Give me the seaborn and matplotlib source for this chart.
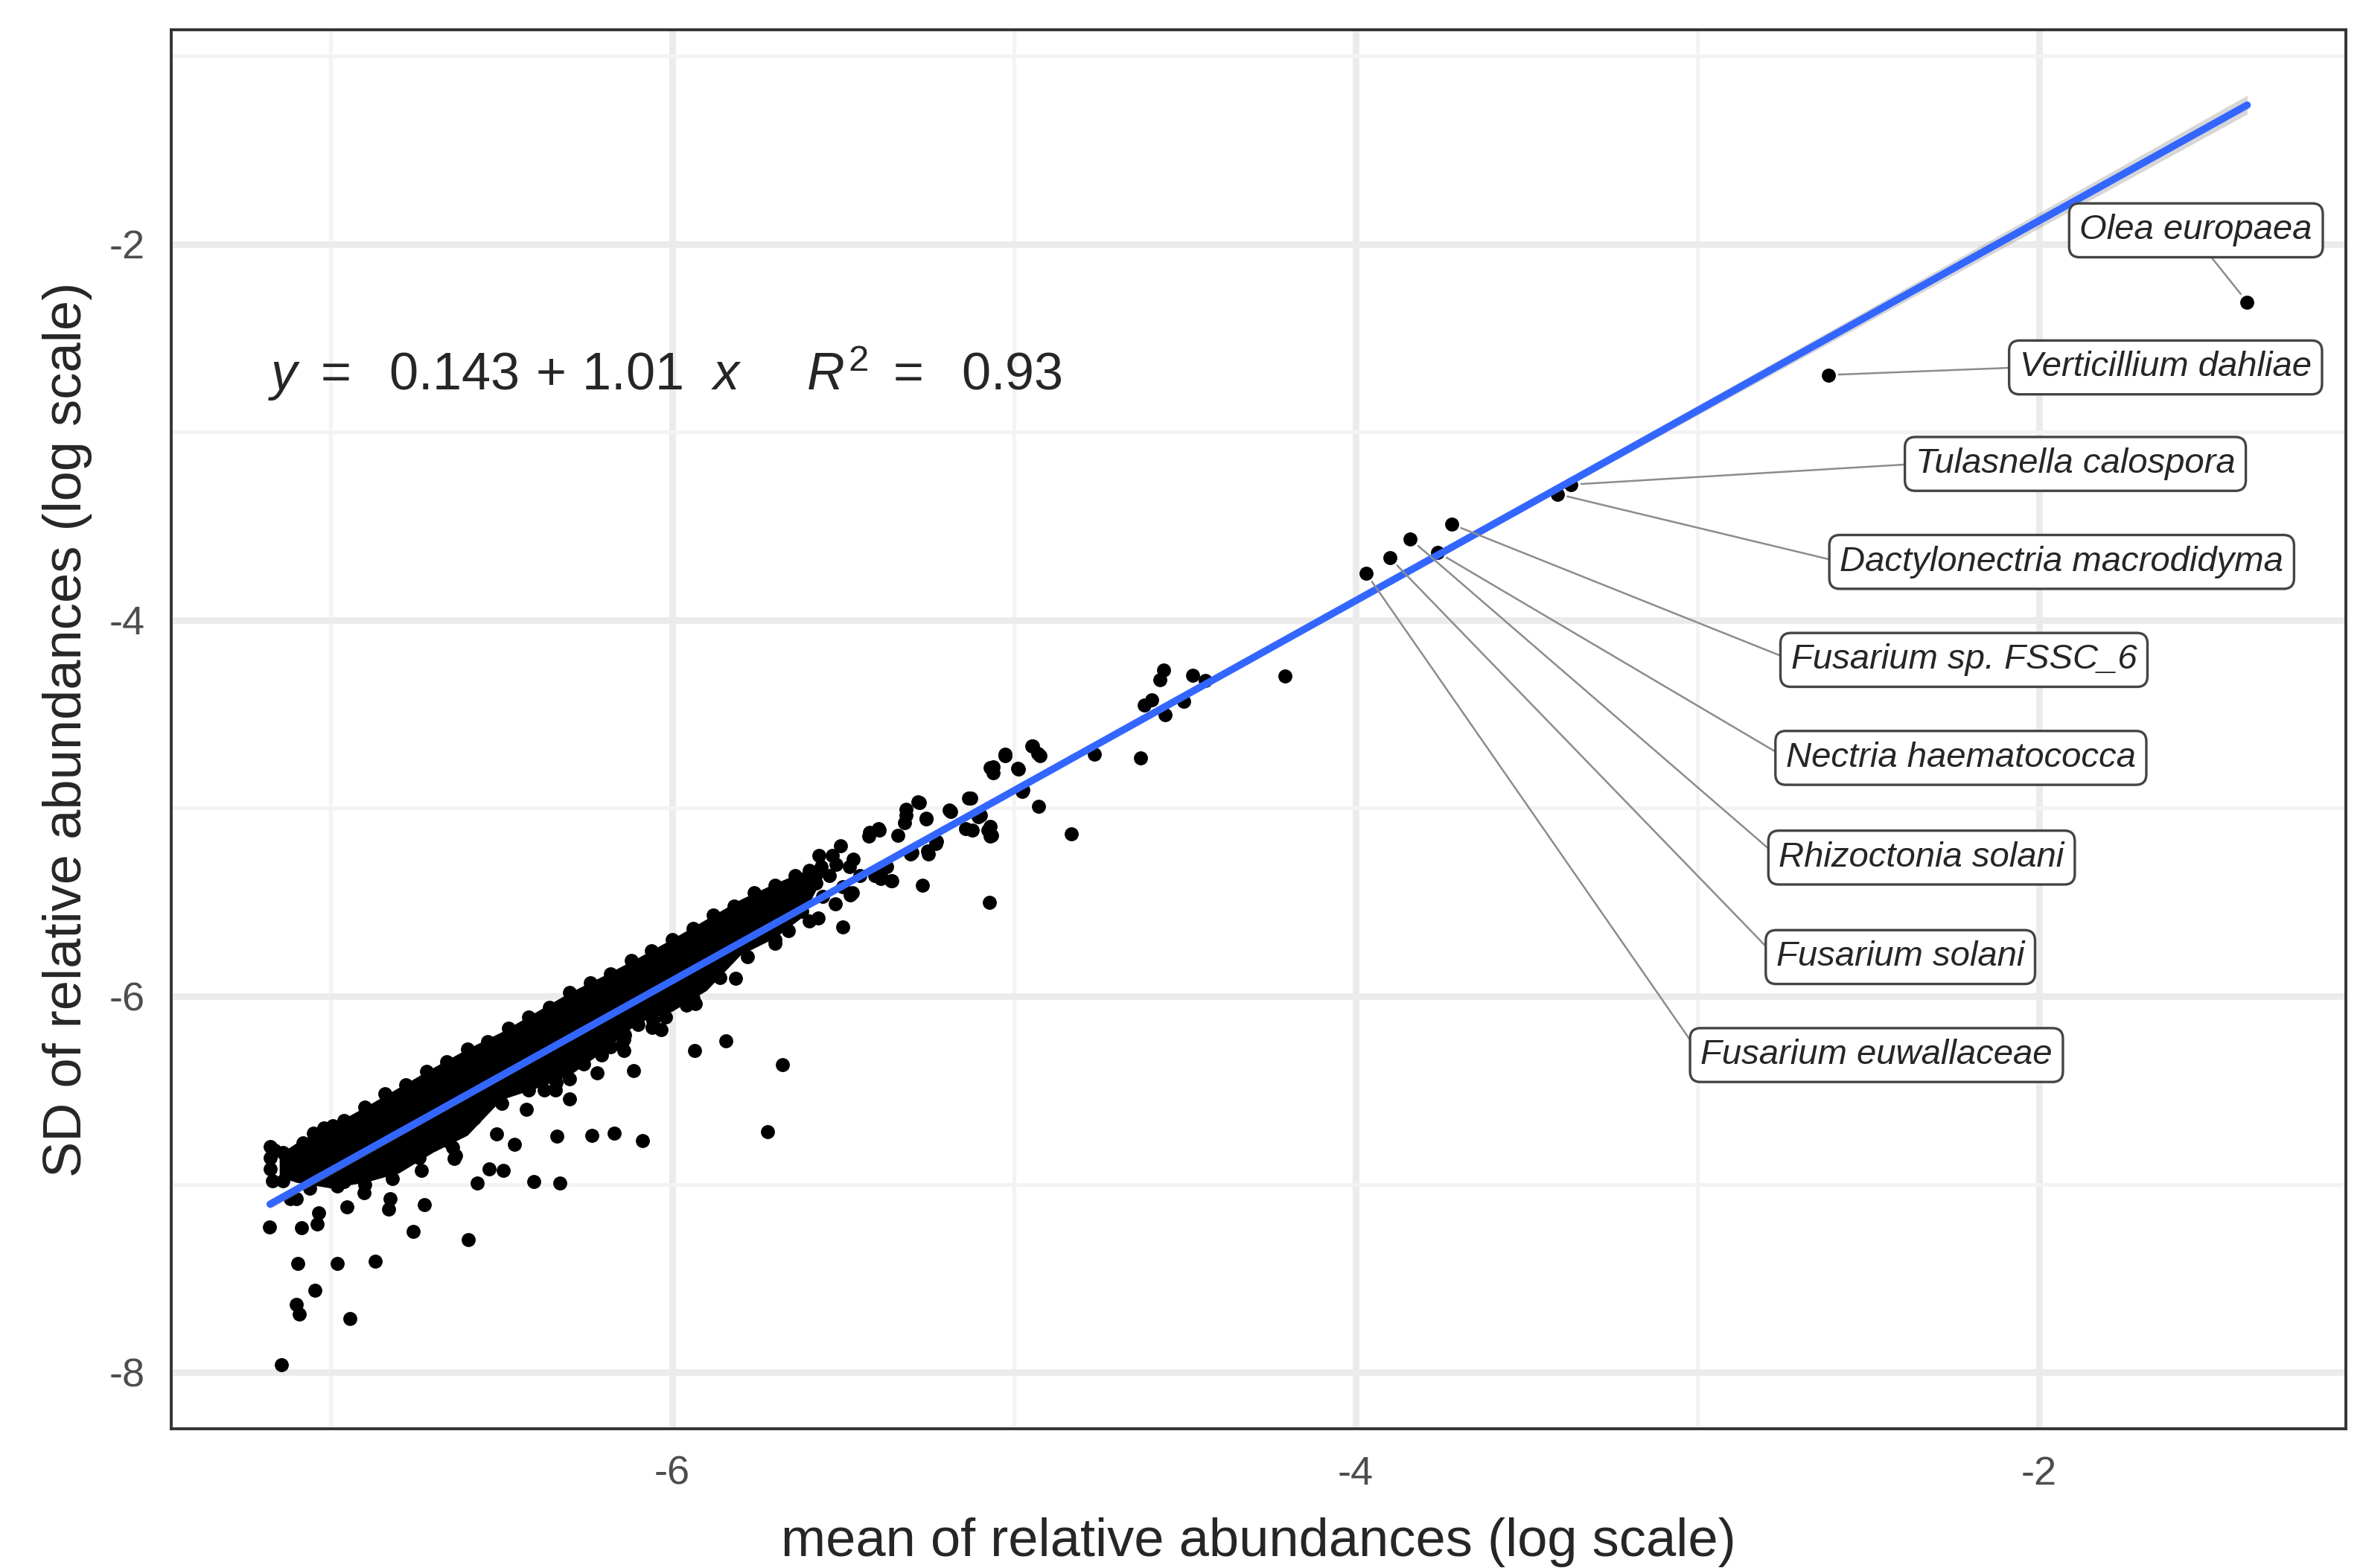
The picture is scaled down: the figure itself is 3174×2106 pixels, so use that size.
import matplotlib.pyplot as plt
import seaborn as sns
import numpy as np
from matplotlib.ticker import FixedLocator

# log mean / log SD of relative abundances
pt_x = [-7.144, -7.045, -7.101, -7.091, -6.943, -7.095, -6.980, -6.869, -7.178, -7.084,
        -7.039, -6.759, -6.596, -6.726, -6.830, -6.570, -6.405, -6.330, -6.536, -6.494,
        -6.515, -6.461, -6.338, -6.236, -6.169, -6.088, -6.426, -6.221, -6.113, -5.935,
        -6.634, -7.101, -6.993, -7.051,
        # ragged lower edge of the dense cloud
        -7.117, -7.034, -6.951, -6.960, -6.901, -6.826, -6.734, -6.642, -6.639, -6.375,
        -6.300, -6.300, -6.142, -6.059, -6.142, -6.342, -5.959, -6.057, -6.032, -6.140,
        -6.149, -6.207, -5.815, -5.573,
        # left tip
        -7.176, -7.176, -7.176, -7.170, -7.163,
        -5.932, -5.844, -5.678, -5.721, -5.500, -5.267, -5.071, -4.931,
        -5.507, -5.532, -5.565, -5.482, -5.473, -5.523, -5.423, -5.394, -5.390, -5.357,
        -5.340, -5.315, -5.277, -5.257, -5.298, -5.253, -5.227, -5.190, -5.132, -5.123,
        -5.077, -5.065, -5.069, -5.027, -4.990, -4.948, -4.973, -5.098, -5.373, -5.407,
        -4.561, -4.572, -4.477, -4.503, -4.557, -4.597, -4.619, -4.630, -4.764, -4.946,
        -4.924, -5.026, -5.062, -5.062, -4.986, -4.975, -4.927, -4.833, -5.127, -5.105,
        -5.142, -5.069, -5.069, -5.185, -5.280, -5.316, -5.258, -5.320, -5.396, -5.425,
        -5.229, -5.302, -5.251, -5.389, -5.359, -4.440, -4.207,
        # tapering right end of the cloud
        -5.60, -5.58, -5.56, -5.54, -5.50, -5.47, -5.45, -5.62, -5.60, -5.66, -5.66, -5.70,
        -5.64, -5.57, -5.52, -5.48]
pt_y = [-7.958, -7.564, -7.637, -7.690, -7.713, -7.422, -7.422, -7.410, -7.228, -7.231,
        -7.212, -7.250, -7.295, -7.109, -7.133, -6.993, -6.985, -6.993, -6.917, -6.925,
        -6.731, -6.788, -6.746, -6.740, -6.728, -6.770, -6.603, -6.409, -6.394, -6.288,
        -6.849, -7.076, -6.689, -6.728,
        -7.076, -7.152, -7.122, -6.985, -7.046, -7.076, -6.925, -6.804, -6.864, -6.500,
        -6.440, -6.546, -6.228, -6.167, -6.288, -6.500, -6.046, -6.131, -6.177, -6.207,
        -6.260, -6.313, -5.904, -5.586,
        -6.800, -6.860, -6.920, -6.980, -6.819,
        -6.040, -6.237, -6.366, -6.722, -5.631, -5.411, -5.500, -4.708,
        -5.199, -5.252, -5.313, -5.313, -5.449, -5.510, -5.131, -5.116, -5.358, -5.388,
        -5.146, -5.040, -4.972, -5.055, -5.237, -5.230, -5.177, -5.010, -4.949, -5.116,
        -5.116, -5.146, -4.783, -4.714, -4.790, -4.669, -4.904, -5.040, -5.313, -5.358,
        -4.266, -4.319, -4.293, -4.432, -4.504, -4.425, -4.451, -4.735, -4.715, -4.669,
        -4.722, -4.722, -4.781, -4.814, -4.794, -4.913, -4.992, -5.137, -4.946, -5.045,
        -5.111, -5.098, -5.150, -5.019, -4.966, -5.006, -5.058, -5.078, -5.111, -5.150,
        -5.190, -5.243, -5.243, -5.375, -5.388, -4.320, -4.299,
        -5.33, -5.40, -5.47, -5.36, -5.42, -5.27, -5.36, -5.55, -5.60, -5.65, -5.42, -5.70,
        -5.50, -5.25, -5.30, -5.46]

# dots along the upper and lower rims of the dense cloud
rim_x = [-7.14, -7.08, -7.02, -6.96, -6.90, -6.84, -6.78, -6.72, -6.66, -6.60, -6.54, -6.48,
         -6.42, -6.36, -6.30, -6.24, -6.18, -6.12, -6.06, -6.00, -5.94, -5.88, -5.82, -5.76,
         -5.70, -5.64,
         -7.14, -7.06, -6.98, -6.90, -6.82, -6.74, -6.66, -6.58, -6.50, -6.42, -6.34, -6.26,
         -6.18, -6.10, -6.02, -5.94, -5.86, -5.78, -5.70]
rim_y = [-6.83, -6.78, -6.70, -6.66, -6.59, -6.52, -6.47, -6.40, -6.35, -6.28, -6.24, -6.17,
         -6.11, -6.06, -5.98, -5.93, -5.88, -5.81, -5.76, -5.70, -5.64, -5.57, -5.52, -5.45,
         -5.41, -5.36,
         -6.98, -7.02, -7.01, -7.00, -6.97, -6.86, -6.77, -6.65, -6.57, -6.50, -6.46, -6.36,
         -6.27, -6.15, -6.11, -6.01, -5.90, -5.79, -5.72]

# outline of the saturated core of the cloud (thousands of overlapping taxa)
band_x = [-7.15, -7.10, -7.00, -6.90, -6.80, -6.70, -6.60, -6.50, -6.40, -6.30,
          -6.20, -6.10, -6.00, -5.90, -5.80, -5.70, -5.62, -5.55]
band_hi = [-6.84, -6.78, -6.69, -6.59, -6.485, -6.38, -6.28, -6.19, -6.085, -5.98,
           -5.89, -5.795, -5.695, -5.59, -5.485, -5.40, -5.34, -5.31]
band_lo = [-6.96, -6.99, -7.02, -6.99, -6.94, -6.83, -6.74, -6.55, -6.49, -6.42,
           -6.29, -6.14, -6.08, -5.97, -5.78, -5.69, -5.58, -5.33]

# labelled taxa
taxa = ['Olea europaea', 'Verticillium dahliae', 'Tulasnella calospora',
        'Dactylonectria macrodidyma', 'Fusarium sp. FSSC_6', 'Nectria haematococca',
        'Rhizoctonia solani', 'Fusarium solani', 'Fusarium euwallaceae']
taxa_x = [-1.391, -2.617, -3.37, -3.41, -3.72, -3.76, -3.84, -3.90, -3.97]
taxa_y = [-2.31, -2.697, -3.28, -3.33, -3.49, -3.64, -3.57, -3.67, -3.75]
box_x = [-1.541, -1.630, -1.894, -1.934, -2.220, -2.229, -2.344, -2.406, -2.476]
box_y = [-1.928, -2.657, -3.170, -3.691, -4.212, -4.733, -5.263, -5.792, -6.313]

# linear fit
fit_x = [-7.177, -1.391]
fit_y = [-7.106, -1.262]
ribbon_x = [-7.177, -4.3, -1.391]
ribbon_lo = [-7.13, -4.206, -1.31]
ribbon_hi = [-7.08, -4.194, -1.21]

sns.set_style('white')
plt.rcParams['font.family'] = ['Liberation Sans', 'DejaVu Sans']
plt.rcParams['mathtext.fontset'] = 'custom'
plt.rcParams['mathtext.rm'] = 'Liberation Sans'
plt.rcParams['mathtext.it'] = 'Liberation Sans:italic'
plt.rcParams['axes.unicode_minus'] = False

fig = plt.figure(figsize=(15.87, 10.53), dpi=200)
ax = fig.add_axes([0.0725, 0.0888, 0.9203, 0.8923])

ax.fill_between(band_x, band_lo, band_hi, color='black', lw=0, zorder=2)
sns.scatterplot(x=pt_x + rim_x + taxa_x, y=pt_y + rim_y + taxa_y, color='black', s=46,
                linewidth=0, ax=ax, zorder=3)
ax.fill_between(ribbon_x, ribbon_lo, ribbon_hi, color='#999999', alpha=0.4, lw=0, zorder=4)
sns.lineplot(x=fit_x, y=fit_y, color='#3366FF', lw=3.5, ax=ax, zorder=5)

ax.text(-7.183, -2.778, r'$y\ =\ \ 0.143\,+\,1.01\ \ x\quad\;\; R^2\ =\ \ 0.93$',
        fontsize=25.3, va='baseline', ha='left', zorder=6)

for i, name in enumerate(taxa):
    rel = (0.53, 0.0) if i == 0 else (0.0, 0.5)
    ax.annotate(name, xy=(taxa_x[i], taxa_y[i]), xytext=(box_x[i], box_y[i]),
                ha='center', va='center', fontsize=17, fontstyle='italic', zorder=7,
                bbox=dict(boxstyle='round,pad=0.3,rounding_size=0.3', fc='white',
                          ec='#444444', lw=1.2),
                arrowprops=dict(arrowstyle='-', color='#8C8C8C', lw=0.9,
                                shrinkA=0, shrinkB=5, relpos=rel))

ax.set_xlim(-7.466, -1.102)
ax.set_ylim(-8.30, -0.861)
ax.xaxis.set_major_locator(FixedLocator([-6, -4, -2]))
ax.xaxis.set_minor_locator(FixedLocator([-7, -5, -3]))
ax.yaxis.set_major_locator(FixedLocator([-8, -6, -4, -2]))
ax.yaxis.set_minor_locator(FixedLocator([-7, -5, -3, -1]))
ax.set_xticklabels(['-6', '-4', '-2'])
ax.set_yticklabels(['-8', '-6', '-4', '-2'])
ax.tick_params(which='major', length=5.8, width=1.1, color='#333333',
               labelsize=19.5, labelcolor='#4D4D4D', pad=7)
ax.tick_params(which='minor', length=0)
ax.grid(which='major', color='#EBEBEB', lw=3.2)
ax.grid(which='minor', color='#F3F3F3', lw=1.9)
ax.set_axisbelow(True)
for sp in ax.spines.values():
    sp.set_color('#333333')
    sp.set_linewidth(1.4)

ax.set_xlabel('mean of relative abundances (log scale)', fontsize=26, labelpad=12)
ax.set_ylabel('SD of relative abundances (log scale)', fontsize=26, labelpad=8)

fig.savefig('out.png', dpi=200)
